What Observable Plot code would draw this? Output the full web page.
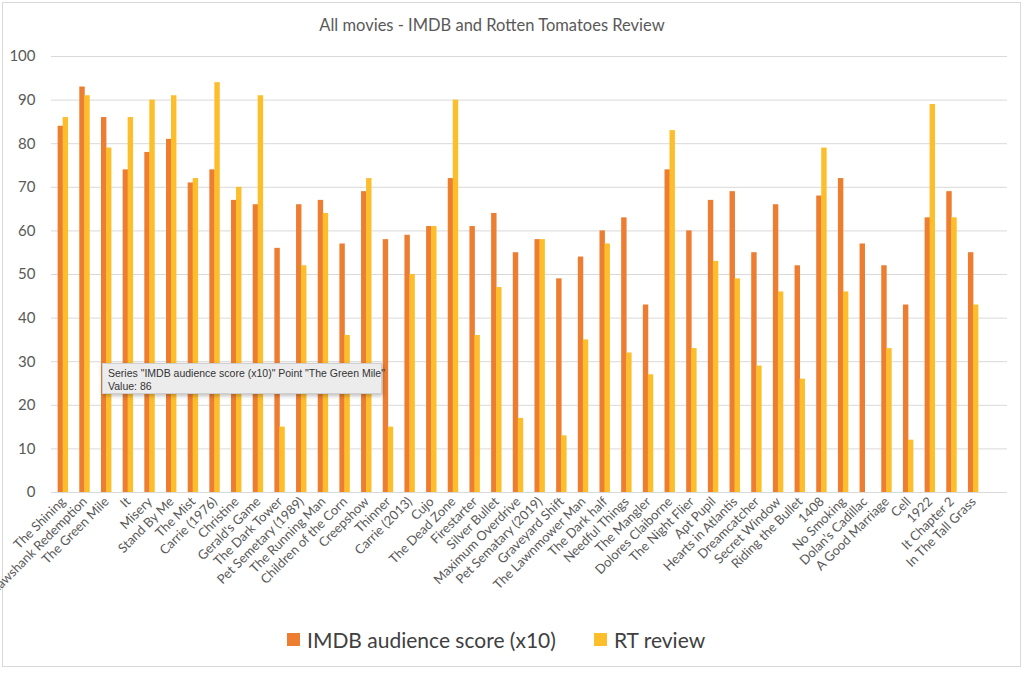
<!DOCTYPE html>
<html>
<head>
<meta charset="utf-8">
<script src="https://cdn.jsdelivr.net/npm/d3@7"></script>
<script src="https://cdn.jsdelivr.net/npm/@observablehq/plot@0.6"></script>
<style>
  html, body { margin: 0; padding: 0; background: #fff; }
  #wrap { position: relative; width: 1024px; height: 674px; overflow: hidden; font-family: Lato, "Open Sans", sans-serif; color: #595959; }
  #frame { position: absolute; left: 2px; top: 2px; width: 1019px; height: 665px; border: 1px solid #d9d9d9; box-sizing: border-box; }
  #title { position: absolute; left: 0; width: 984px; top: 15px; text-align: center; font-size: 16.5px; color: #595959; }
  #chart { position: absolute; left: 0; top: 40px; }
  #legend { position: absolute; left: 287px; top: 627px; display: flex; align-items: center; font-size: 21px; color: #404040; }
  .sw { width: 13px; height: 13px; display: inline-block; margin-right: 7px; }
  .item { display: flex; align-items: center; margin-right: 38px; }
  #tip { position: absolute; left: 102px; top: 363px; width: 280px; height: 31px; box-sizing: border-box;
         background: #ececec; border: 1px solid #cfcfcf; box-shadow: 1px 2px 4px rgba(0,0,0,0.25);
         font-family: "Liberation Sans", Arial, sans-serif; font-size: 10.5px; line-height: 12.5px; color: #333; padding: 3px 5px; white-space: nowrap; }
</style>
</head>
<body>
<div id="wrap">
  <div id="frame"></div>
  <div id="title"></div>
  <div id="chart"></div>
  <div id="legend"></div>
  <div id="tip"></div>
</div>
<script>
const titleText = "All movies - IMDB and Rotten Tomatoes Review";
const movies = [
  "The Shining", "Shawshank Redemption", "The Green Mile", "It", "Misery", "Stand By Me",
  "The Mist", "Carrie (1976)", "Christine", "Gerald's Game", "The Dark Tower",
  "Pet Semetary (1989)", "The Running Man", "Children of the Corn", "Creepshow", "Thinner",
  "Carrie (2013)", "Cujo", "The Dead Zone", "Firestarter", "Silver Bullet",
  "Maximum Overdrive", "Pet Sematary (2019)", "Graveyard Shift", "The Lawnmower Man",
  "The Dark half", "Needful Things", "The Mangler", "Dolores Claiborne", "The Night Flier",
  "Apt Pupil", "Hearts in Atlantis", "Dreamcatcher", "Secret Window", "Riding the Bullet",
  "1408", "No Smoking", "Dolan\u2019s Cadillac", "A Good Marriage", "Cell", "1922",
  "It Chapter 2", "In The Tall Grass"
];
const imdbScores = [84, 93, 86, 74, 78, 81, 71, 74, 67, 66, 56, 66, 67, 57, 69, 58, 59, 61, 72, 61, 64,
  55, 58, 49, 54, 60, 63, 43, 74, 60, 67, 69, 55, 66, 52, 68, 72, 57, 52, 43, 63, 69, 55];
const rtScores = [86, 91, 79, 86, 90, 91, 72, 94, 70, 91, 15, 52, 64, 36, 72, 15, 50, 61, 90, 36, 47,
  17, 58, 13, 35, 57, 32, 27, 83, 33, 53, 49, 29, 46, 26, 79, 46, null, 33, 12, 89, 63, 43];
const seriesNames = ["IMDB audience score (x10)", "RT review"];
const seriesColors = ["#ED7D31", "#FDBE2C"];
const yTicks = [0, 10, 20, 30, 40, 50, 60, 70, 80, 90, 100];
const tipLines = ['Series "IMDB audience score (x10)" Point "The Green Mile"', "Value: 86"];

const imdbData = movies.map((m, i) => ({movie: m, value: imdbScores[i]}));
const rtData = movies.map((m, i) => ({movie: m, value: rtScores[i]})).filter(d => d.value != null);

document.getElementById("title").textContent = titleText;
document.getElementById("tip").innerHTML = tipLines.map(t => t.replace(/&/g,"&amp;").replace(/</g,"&lt;")).join("<br>");

const legend = document.getElementById("legend");
seriesNames.forEach((n, i) => {
  const it = document.createElement("div");
  it.className = "item";
  const sw = document.createElement("span");
  sw.className = "sw";
  sw.style.background = seriesColors[i];
  const tx = document.createElement("span");
  tx.textContent = n;
  it.appendChild(sw); it.appendChild(tx);
  legend.appendChild(it);
});

const chart = Plot.plot({
  width: 1024,
  height: 580,
  marginTop: 16,
  marginBottom: 128,
  marginLeft: 51,
  marginRight: 17,
  style: {fontFamily: "Lato, 'Open Sans', sans-serif", color: "#595959", background: "transparent"},
  x: {domain: movies, paddingInner: 0.75, paddingOuter: 0.375, insetLeft: 1, insetRight: 23, round: false},
  y: {domain: [0, 100]},
  marks: [
    Plot.gridY(yTicks, {stroke: "#d9d9d9", strokeOpacity: 1, strokeWidth: 1}),
    Plot.axisY(yTicks, {tickSize: 0, tickPadding: 16, fontSize: 15, fill: "#595959", label: null}),
    Plot.axisX({tickRotate: -45, tickSize: 0, tickPadding: 7, fontSize: 13, fill: "#595959", label: null}),
    Plot.barY(imdbData, {x: "movie", y: "value", fill: seriesColors[0], dx: -2.5}),
    Plot.barY(rtData, {x: "movie", y: "value", fill: seriesColors[1], dx: 2.5})
  ]
});
document.getElementById("chart").appendChild(chart);
</script>
</body>
</html>
